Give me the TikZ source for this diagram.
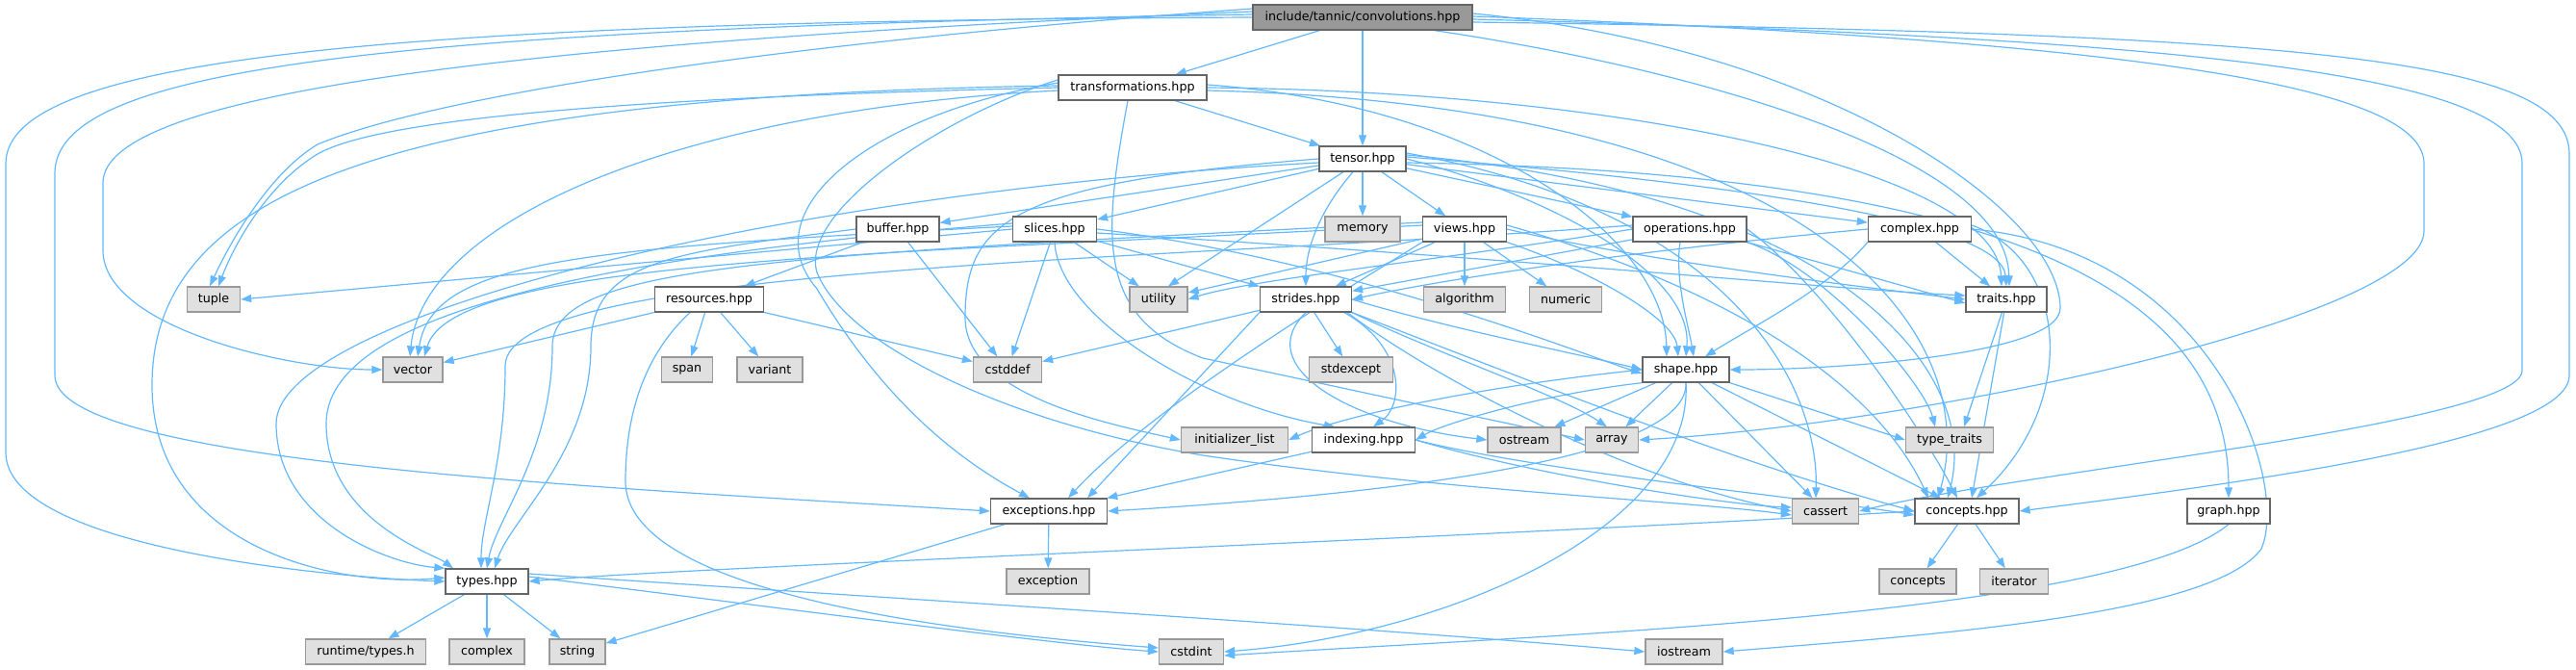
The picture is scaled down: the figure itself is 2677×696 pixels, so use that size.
\documentclass[tikz,border=0pt]{standalone}
\usepackage{fontspec}
\usetikzlibrary{arrows.meta,backgrounds}
\newfontfamily\dx{DejaVu Sans}
\definecolor{edgec}{HTML}{63B8FF}
\definecolor{gfill}{HTML}{E0E0E0}
\definecolor{gdraw}{HTML}{999999}
\definecolor{wdraw}{HTML}{666666}
\definecolor{tfill}{HTML}{999999}
\tikzset{
  base/.style={minimum height=26pt, inner sep=0pt, line width=1.3pt, font=\dx\fontsize{12.7}{15}\selectfont},
  wn/.style={base, draw=wdraw, fill=white},
  gn/.style={base, draw=gdraw, fill=gfill},
  tn/.style={base, draw=wdraw, fill=tfill},
  e/.style={draw=edgec, line width=1.2pt, -{Triangle[length=11pt,width=8pt]}}
}
\begin{document}
\begin{tikzpicture}[x=1pt,y=-1pt]
\useasboundingbox (0,0) rectangle (2677,696);
% row 0
\node[tn, minimum width=228pt] (conv) at (1416,18) {include/tannic/convolutions.hpp};
% row 1
\node[wn, minimum width=154pt] (trans) at (1177,91) {transformations.hpp};
% row 2
\node[wn, minimum width=90pt] (tensor) at (1416,165) {tensor.hpp};
% row 3
\node[wn, minimum width=86pt] (buffer) at (933,238) {buffer.hpp};
\node[wn, minimum width=87pt] (slices) at (1096,238) {slices.hpp};
\node[gn, minimum width=78pt] (memory) at (1416,238) {memory};
\node[wn, minimum width=87pt] (views) at (1522,238) {views.hpp};
\node[wn, minimum width=118pt] (operations) at (1756,238) {operations.hpp};
\node[wn, minimum width=107pt] (complexhpp) at (1995,238) {complex.hpp};
% row 4
\node[gn, minimum width=55pt] (tuple) at (222,311) {tuple};
\node[wn, minimum width=113pt] (resources) at (737,311) {resources.hpp};
\node[gn, minimum width=60pt] (utility) at (1204,311) {utility};
\node[wn, minimum width=95pt] (strides) at (1357,311) {strides.hpp};
\node[gn, minimum width=85pt] (algorithm) at (1522,311) {algorithm};
\node[gn, minimum width=75pt] (numeric) at (1627,311) {numeric};
\node[wn, minimum width=84pt] (traits) at (2085,311) {traits.hpp};
% row 5
\node[gn, minimum width=62pt] (vector) at (429,384) {vector};
\node[gn, minimum width=53pt] (span) at (714,384) {span};
\node[gn, minimum width=68pt] (variant) at (800,384) {variant};
\node[gn, minimum width=71pt] (cstddef) at (1047,384) {cstddef};
\node[gn, minimum width=87pt] (stdexcept) at (1404,384) {stdexcept};
\node[wn, minimum width=90pt] (shape) at (1752,384) {shape.hpp};
% row 6
\node[gn, minimum width=111pt] (initlist) at (1283,457) {initializer\_list};
\node[wn, minimum width=107pt] (indexing) at (1417,457) {indexing.hpp};
\node[gn, minimum width=76pt] (ostream) at (1584,457) {ostream};
\node[gn, minimum width=55pt] (array) at (1675,457) {array};
\node[gn, minimum width=91pt] (typetraits) at (2026,457) {type\_traits};
% row 7
\node[wn, minimum width=121pt] (exceptions) at (1090,531) {exceptions.hpp};
\node[gn, minimum width=69pt] (cassert) at (1897,531) {cassert};
\node[wn, minimum width=108pt] (conceptshpp) at (2044,531) {concepts.hpp};
\node[wn, minimum width=86pt] (graph) at (2316,531) {graph.hpp};
% row 8
\node[wn, minimum width=86pt] (types) at (506,604) {types.hpp};
\node[gn, minimum width=86pt] (exception) at (1089,604) {exception};
\node[gn, minimum width=80pt] (concepts) at (1993,604) {concepts};
\node[gn, minimum width=71pt] (iterator) at (2093,604) {iterator};
% row 9
\node[gn, minimum width=125pt] (runtime) at (380,677) {runtime/types.h};
\node[gn, minimum width=78pt] (complex) at (506,677) {complex};
\node[gn, minimum width=58pt] (string) at (600,677) {string};
\node[gn, minimum width=67pt] (cstdint) at (1238,677) {cstdint};
\node[gn, minimum width=80pt] (iostream) at (1750,677) {iostream};

\begin{scope}[on background layer]
% convolutions
\draw[e] (conv) -- (trans);
\draw[e] (conv) -- (tensor);
\draw[e] (conv.west) .. controls (400,22) and (6,60) .. (6,170) -- (6,470) .. controls (6,570) and (350,600) .. (types.west);
\draw[e] ([yshift=3pt]conv.west) .. controls (400,30) and (57,70) .. (57,180) -- (57,390) .. controls (57,480) and (600,505) .. (exceptions.west);
\draw[e] ([yshift=6pt]conv.west) .. controls (500,45) and (107,100) .. (107,190) -- (107,260) .. controls (107,340) and (300,384) .. (vector.west);
\draw[e] ([yshift=9pt]conv.west) .. controls (800,45) and (450,100) .. (330,150) .. controls (280,180) and (240,250) .. ([xshift=-4pt]tuple.north);
\draw[e] ([xshift=-40pt]conv.south east) .. controls (1750,70) and (2085,160) .. ([xshift=3pt]traits.north);
\draw[e] ([yshift=4pt]conv.east) .. controls (1900,50) and (2141,220) .. (2141,320) .. controls (2141,370) and (1900,384) .. (shape.east);
\draw[e] ([yshift=-2pt]conv.east) .. controls (2300,40) and (2621,80) .. (2621,170) -- (2621,385) .. controls (2621,440) and (2100,490) .. (cassert.east);
\draw[e] ([yshift=-5pt]conv.east) .. controls (2400,35) and (2670,60) .. (2670,160) -- (2670,390) .. controls (2670,460) and (2300,505) .. (conceptshpp.east);
\draw[e] ([yshift=1pt]conv.east) .. controls (2300,45) and (2519,100) .. (2519,170) -- (2519,240) .. controls (2519,330) and (2000,440) .. (array.east);
% transformations
\draw[e] (trans) -- (tensor);
\draw[e] (trans.west) .. controls (700,100) and (400,120) .. (330,160) .. controls (280,190) and (245,250) .. ([xshift=5pt]tuple.north);
\draw[e] ([yshift=2pt]trans.west) .. controls (400,100) and (158,200) .. (158,400) .. controls (158,570) and (350,610) .. ([yshift=4pt]types.west);
\draw[e] ([yshift=-3pt]trans.west) .. controls (700,115) and (440,230) .. ([xshift=-3pt]vector.north);
\draw[e] ([yshift=5pt]trans.west) .. controls (900,120) and (780,220) .. (849,300) .. controls (920,420) and (1000,480) .. ([xshift=-20pt]exceptions.north);
\draw[e] ([yshift=8pt]trans.west) .. controls (980,120) and (830,220) .. (849,283) .. controls (880,360) and (1050,440) .. (1250,473) .. controls (1500,510) and (1750,520) .. ([yshift=-4pt]cassert.west);
\draw[e] ([xshift=-5pt]trans.south) .. controls (1145,250) and (1140,330) .. (1250,372) -- (array.west);
\draw[e] (trans.east) .. controls (1700,95) and (2075,180) .. ([xshift=-5pt]traits.north);
\draw[e] ([yshift=3pt]trans.east) .. controls (1550,110) and (1730,250) .. ([xshift=-20pt]shape.north);
\draw[e] ([yshift=-3pt]trans.east) .. controls (1900,110) and (2060,350) .. ([xshift=-30pt]conceptshpp.north);
% tensor
\draw[e] (tensor) -- (buffer);
\draw[e] (tensor) -- (slices);
\draw[e] (tensor) -- (memory);
\draw[e] (tensor) -- (views);
\draw[e] (tensor) -- (operations);
\draw[e] (tensor) -- (complexhpp);
\draw[e] ([xshift=-20pt]tensor.south) -- ([xshift=10pt]utility.north);
\draw[e] ([xshift=-10pt]tensor.south) .. controls (1370,220) and (1357,260) .. (strides.north);
\draw[e] (tensor.west) .. controls (1050,190) and (1003,230) .. (1003,330) .. controls (1003,410) and (1150,440) .. (initlist.west);
\draw[e] ([yshift=-4pt]tensor.west) .. controls (800,200) and (287,330) .. (287,440) .. controls (287,540) and (400,585) .. (types.north west);
\draw[e] (tensor.east) .. controls (1600,200) and (1760,280) .. (shape.north);
\draw[e] ([yshift=2pt]tensor.east) .. controls (1800,190) and (2080,230) .. (traits.north);
\draw[e] ([yshift=4pt]tensor.east) .. controls (1900,200) and (2060,380) .. ([xshift=-20pt]conceptshpp.north);
\draw[e] ([yshift=6pt]tensor.east) .. controls (1800,220) and (1890,400) .. ([xshift=-10pt]cassert.north);
\draw[e] ([yshift=-4pt]tensor.east) .. controls (2150,180) and (2316,330) .. (graph.north);
% buffer
\draw[e] (buffer) -- (resources);
\draw[e] (buffer) -- (cstddef);
\draw[e] (buffer.west) .. controls (700,262) and (614,270) .. (614,360) .. controls (614,470) and (530,540) .. ([xshift=8pt]types.north);
% slices
\draw[e] (slices.west) -- (tuple.east);
\draw[e] ([yshift=3pt]slices.west) .. controls (600,258) and (450,270) .. ([xshift=5pt]vector.north);
\draw[e] ([yshift=6pt]slices.west) .. controls (600,268) and (339,330) .. (339,440) .. controls (339,540) and (450,575) .. ([xshift=-35pt]types.north);
\draw[e] (slices) -- (utility);
\draw[e] (slices) -- (strides);
\draw[e] (slices) -- (cstddef);
\draw[e] (slices.south) .. controls (1100,330) and (1250,420) .. ([xshift=-30pt]indexing.north);
\draw[e] (slices.east) .. controls (1400,270) and (1650,370) .. ([yshift=-4pt]shape.west);
\draw[e] ([yshift=-4pt]slices.east) .. controls (1600,270) and (1900,300) .. ([yshift=4pt]traits.west);
% views
\draw[e] (views) -- (utility);
\draw[e] (views) -- (strides);
\draw[e] (views) -- (algorithm);
\draw[e] (views) -- (numeric);
\draw[e] (views.south east) .. controls (1650,280) and (1740,330) .. ([xshift=-8pt]shape.north);
\draw[e] (views.east) .. controls (1700,270) and (1950,300) .. (traits.west);
\draw[e] ([yshift=4pt]views.west) .. controls (900,265) and (470,270) .. ([xshift=12pt]vector.north);
\draw[e] ([yshift=7pt]views.west) .. controls (800,266) and (574,275) .. (574,360) .. controls (574,470) and (515,540) .. (types.north);
\draw[e] (views.south west) .. controls (1400,300) and (1200,420) .. ([xshift=20pt]exceptions.north);
\draw[e] ([yshift=4pt]views.east) .. controls (1800,300) and (1950,400) .. ([xshift=-40pt]conceptshpp.north);
% operations
\draw[e] (operations) -- (strides);
\draw[e] (operations.west) .. controls (1500,270) and (1300,290) .. (utility.east);
\draw[e] ([xshift=-10pt]operations.south) .. controls (1740,290) and (1755,340) .. ([xshift=8pt]shape.north);
\draw[e] (operations.south east) -- ([yshift=-4pt]traits.west);
\draw[e] (operations.south east) .. controls (1900,280) and (2000,400) .. ([xshift=-15pt]typetraits.north);
\draw[e] (operations.east) .. controls (1900,300) and (2000,450) .. ([xshift=-10pt]conceptshpp.north);
\draw[e] ([yshift=4pt]operations.west) .. controls (1200,272) and (525,275) .. (525,380) .. controls (525,480) and (500,540) .. ([xshift=-6pt]types.north);
% complex.hpp
\draw[e] (complexhpp.west) .. controls (1700,260) and (1500,290) .. (strides.east);
\draw[e] (complexhpp) -- (traits);
\draw[e] (complexhpp.south west) .. controls (1900,300) and (1820,340) .. ([xshift=20pt]shape.north);
\draw[e] (complexhpp.east) .. controls (2300,260) and (2380,500) .. (2350,570) .. controls (2300,640) and (2000,660) .. (iostream.east);
\draw[e] ([yshift=4pt]complexhpp.east) .. controls (2150,270) and (2160,420) .. ([xshift=10pt]conceptshpp.north);
% traits
\draw[e] (traits) -- ([xshift=15pt]typetraits.north);
\draw[e] (traits) -- ([xshift=5pt]conceptshpp.north);
% strides
\draw[e] (strides) -- (cstddef);
\draw[e] (strides) -- (stdexcept);
\draw[e] (strides.east) .. controls (1500,340) and (1650,370) .. (shape.west);
\draw[e] ([xshift=40pt]strides.south) .. controls (1460,360) and (1460,420) .. ([xshift=10pt]indexing.north);
\draw[e] (strides.south) .. controls (1300,380) and (1400,440) .. (ostream.west);
\draw[e] (strides.south east) .. controls (1500,370) and (1620,410) .. ([xshift=-5pt]array.north);
\draw[e] (strides.south west) -- ([xshift=40pt]exceptions.north);
\draw[e] (strides.south east) .. controls (1550,380) and (1800,480) .. (conceptshpp.west);
\draw[e] ([xshift=-5pt]strides.south east) .. controls (1500,400) and (1700,500) .. (cassert.west);
% shape
\draw[e] (shape.west) .. controls (1550,400) and (1400,430) .. (initlist.east);
\draw[e] (shape.south west) .. controls (1600,410) and (1500,440) .. (indexing.east);
\draw[e] (shape) -- (ostream);
\draw[e] (shape) -- (array);
\draw[e] (shape.south east) -- (typetraits.west);
\draw[e] (shape) -- (cassert);
\draw[e] (shape) -- (conceptshpp);
\draw[e] (shape.south) .. controls (1755,470) and (1500,510) .. (exceptions.east);
\draw[e] (shape.south) .. controls (1760,550) and (1500,660) .. (cstdint.east);
% indexing
\draw[e] (indexing) -- (exceptions);
\draw[e] (indexing.east) .. controls (1600,490) and (1900,520) .. ([yshift=-4pt]conceptshpp.west);
\draw[e] (indexing.east) .. controls (1600,495) and (1800,525) .. ([yshift=4pt]cassert.west);
% exceptions
\draw[e] (exceptions) -- (exception);
\draw[e] (exceptions) -- (string);
% concepts.hpp
\draw[e] (conceptshpp.west) .. controls (1500,560) and (700,590) .. (types.east);
\draw[e] (conceptshpp) -- (concepts);
\draw[e] (conceptshpp) -- (iterator);
% graph
\draw[e] (graph.south) .. controls (2200,640) and (1600,660) .. ([yshift=-4pt]cstdint.east);
% types
\draw[e] (types) -- (runtime);
\draw[e] (types) -- (complex);
\draw[e] (types) -- (string);
\draw[e] ([yshift=5pt]types.east) .. controls (800,630) and (1100,670) .. (cstdint.west);
\draw[e] ([yshift=8pt]types.east) .. controls (900,620) and (1400,650) .. (iostream.west);
% resources
\draw[e] (resources) -- (vector);
\draw[e] (resources) -- (span);
\draw[e] (resources) -- (variant);
\draw[e] (resources) -- (cstddef);
\draw[e] ([xshift=-20pt]resources.south) .. controls (690,350) and (650,400) .. (650,500) .. controls (650,600) and (900,650) .. ([yshift=4pt]cstdint.west);
\end{scope}
\end{tikzpicture}
\end{document}
